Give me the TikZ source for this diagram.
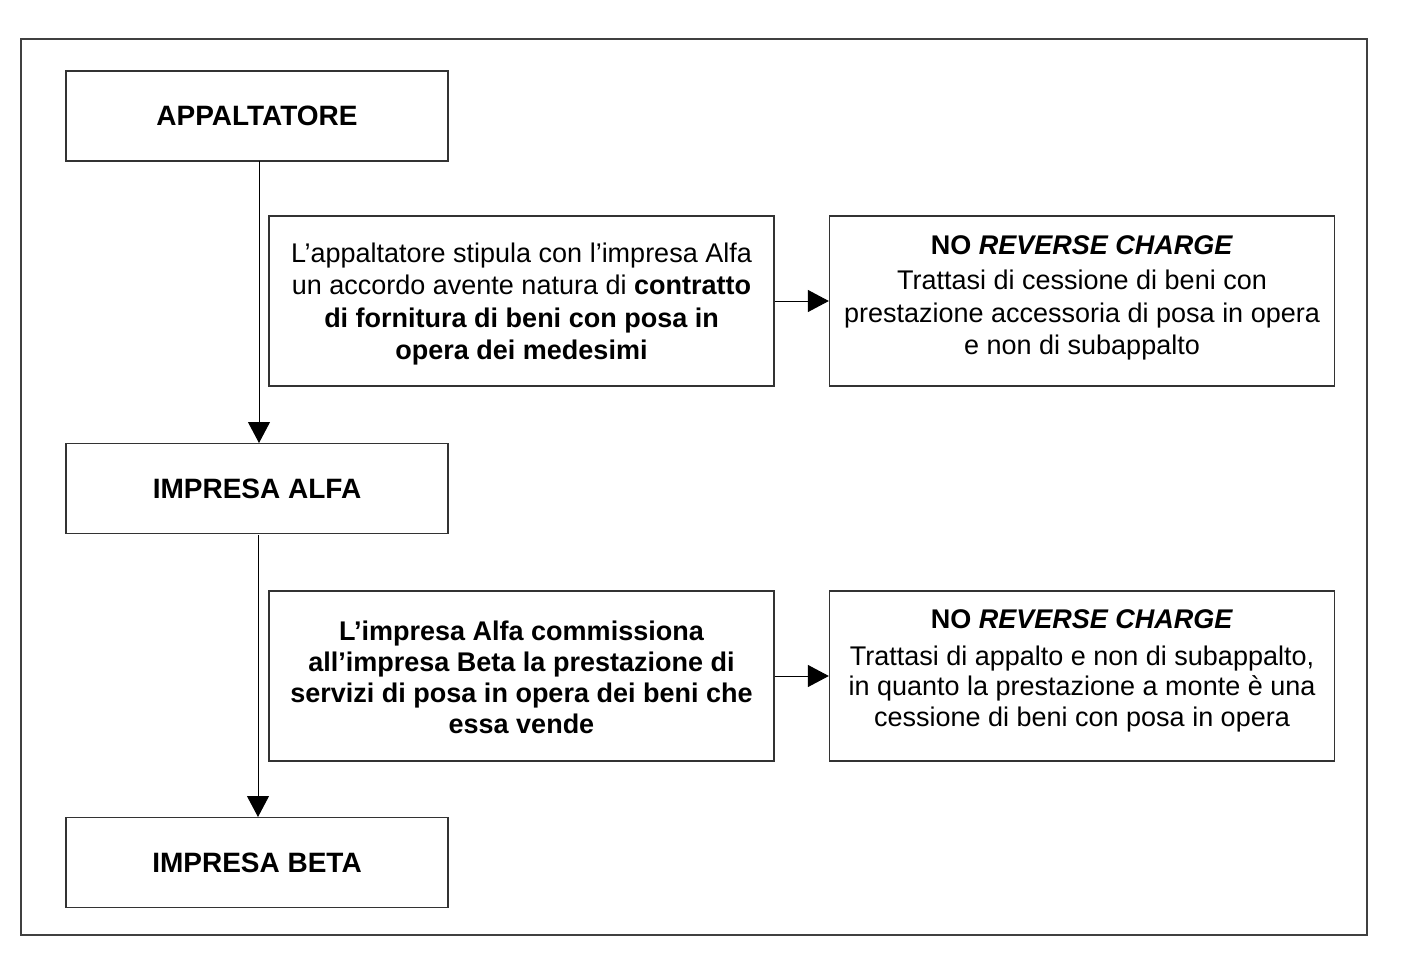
\documentclass[tikz,border=0pt]{standalone}
\usepackage{fontspec}
\setmainfont{Liberation Sans}
\usetikzlibrary{arrows.meta,calc}
\begin{document}
\begin{tikzpicture}[x=1pt,y=-1pt,
  box/.style={draw=black!80,line width=1.3pt,minimum width=382pt,minimum height=90pt,inner sep=0pt,font=\fontsize{28}{32}\selectfont\bfseries},
  tbox/.style={draw=black!80,line width=1.3pt,minimum width=505pt,minimum height=170pt,inner sep=0pt},
  txt/.style={inner sep=0pt,align=center,font=\fontsize{27}{32.3}\selectfont},
  arr/.style={line width=1pt,-{Triangle[width=22pt,length=21pt]}}]
\useasboundingbox (0,0) rectangle (1417,960);
\draw[black!75,line width=1.3pt] (21,39) rectangle (1367,935);
\node[box] (app) at (257,116) {APPALTATORE};
\node[box] (alfa) at (257,488.5) {IMPRESA ALFA};
\node[box] (beta) at (257,862.5) {IMPRESA BETA};
\node[tbox] (t1) at (521.5,301) {};
\node[tbox] (r1) at (1082,301) {};
\node[tbox] (t2) at (521.5,676) {};
\node[tbox] (r2) at (1082,676) {};
\node[txt] (t1txt) at ($(t1.center)+(0,3)$) {L’appaltatore stipula con l’impresa Alfa\\un accordo avente natura di \textbf{contratto}\\\textbf{di fornitura di beni con posa in}\\\textbf{opera dei medesimi}};
\node[txt] (r1txt) at ($(r1.center)+(0,-3)$) {\textbf{NO \textit{REVERSE CHARGE}}\\[3pt]Trattasi di cessione di beni con\\prestazione accessoria di posa in opera\\e non di subappalto};
\node[txt,font=\fontsize{27}{31}\selectfont\bfseries] (t2txt) at ($(t2.center)+(0,1)$) {L’impresa Alfa commissiona\\all’impresa Beta la prestazione di\\servizi di posa in opera dei beni che\\essa vende};
\node[txt,font=\fontsize{27}{30.5}\selectfont] (r2txt) at ($(r2.center)+(0,-5)$) {\textbf{NO \textit{REVERSE CHARGE}}\\[6pt]Trattasi di appalto e non di subappalto,\\in quanto la prestazione a monte è una\\cessione di beni con posa in opera};
\coordinate (a1s) at (259,161);
\coordinate (a1e) at (259,443);
\coordinate (a2s) at (258,535);
\coordinate (a2e) at (258,817);
\draw[arr] (a1s) -- (a1e);
\draw[arr] (a2s) -- (a2e);
\draw[arr] (t1.east) -- (r1.west);
\draw[arr] (t2.east) -- (r2.west);
\end{tikzpicture}
\end{document}
